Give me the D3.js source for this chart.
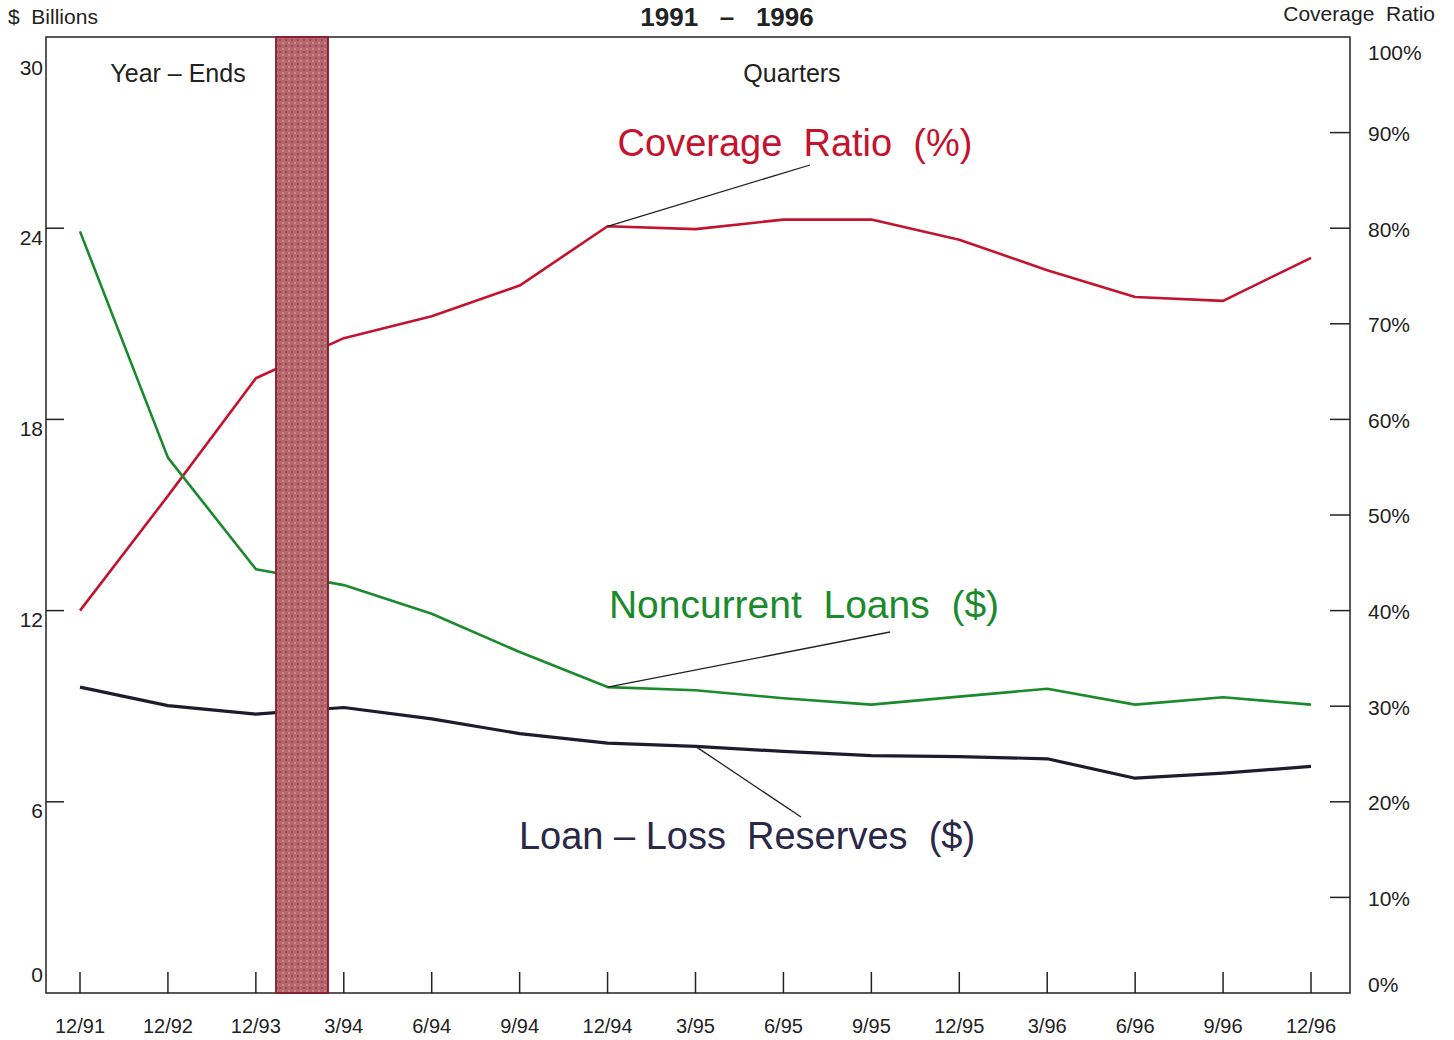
<!DOCTYPE html>
<html>
<head>
<meta charset="utf-8">
<script src="https://cdn.jsdelivr.net/npm/d3@7"></script>
<style>
  body { margin: 0; background: #fff; }
  svg { display: block; font-family: "Liberation Sans", Arial, sans-serif; }
</style>
</head>
<body>
<div id="chart"></div>
<script>
// Quarter labels along the bottom
const periods = ["12/91", "12/92", "12/93", "3/94", "6/94", "9/94", "12/94", "3/95",
                 "6/95", "9/95", "12/95", "3/96", "6/96", "9/96", "12/96"];

// Coverage ratio, percent (right axis)
const coverageRatio = [40.0, 52.0, 64.3, 68.5, 70.8, 74.0, 80.2, 79.9,
                       80.9, 80.9, 78.8, 75.6, 72.8, 72.4, 76.9];

// Noncurrent loans, $ billions (left axis)
const noncurrentLoans = [23.9, 16.8, 13.3, 12.8, 11.9, 10.7, 9.6, 9.5,
                         9.25, 9.05, 9.3, 9.55, 9.05, 9.28, 9.05];

// Loan-loss reserves, $ billions (left axis)
const lossReserves = [9.6, 9.02, 8.75, 8.96, 8.6, 8.14, 7.84, 7.74,
                      7.58, 7.45, 7.42, 7.35, 6.74, 6.9, 7.11];

const leftTicks = [0, 6, 12, 18, 24, 30];
const rightTicks = [0, 10, 20, 30, 40, 50, 60, 70, 80, 90, 100];

// Break between year-end and quarterly data (in index units)
const breakBand = [2.23, 2.82];

const width = 1454, height = 1040;
const plotLeft = 46, plotRight = 1350, plotTop = 37, plotBottom = 993;

const svg = d3.select("#chart").append("svg")
    .attr("width", width)
    .attr("height", height);

// speckled fill for the break band
const pat = svg.append("defs").append("pattern")
    .attr("id", "speckle")
    .attr("patternUnits", "userSpaceOnUse")
    .attr("width", 6).attr("height", 6);
pat.append("rect").attr("width", 6).attr("height", 6).attr("fill", "#b4676c");
pat.append("rect").attr("x", 0).attr("y", 0).attr("width", 2).attr("height", 2).attr("fill", "#c98a86");
pat.append("rect").attr("x", 3).attr("y", 3).attr("width", 2).attr("height", 2).attr("fill", "#9e4a55");

const x = d3.scaleLinear().domain([0, periods.length - 1]).range([80, 1311]);
const yL = d3.scaleLinear().domain([0, 30]).range([plotBottom, plotTop]);
const yR = d3.scaleLinear().domain([0, 100]).range([plotBottom, plotTop]);

// Frame
svg.append("rect")
    .attr("x", plotLeft).attr("y", plotTop)
    .attr("width", plotRight - plotLeft).attr("height", plotBottom - plotTop)
    .attr("fill", "none").attr("stroke", "#222").attr("stroke-width", 1.5);

// Left ticks (inside)
svg.append("g").selectAll("line")
  .data(leftTicks.filter(d => d > 0 && d < 30))
  .join("line")
    .attr("x1", plotLeft).attr("x2", plotLeft + 18)
    .attr("y1", d => yL(d)).attr("y2", d => yL(d))
    .attr("stroke", "#222").attr("stroke-width", 1.5);

svg.append("g").selectAll("text")
  .data(leftTicks)
  .join("text")
    .attr("x", 43)
    .attr("y", d => yL(d) + (d === 30 ? 31 : d === 0 ? -18 : 9))
    .attr("dy", "0.35em")
    .attr("text-anchor", "end")
    .attr("font-size", 21)
    .attr("fill", "#222")
    .text(d => d);

// Right ticks (inside)
svg.append("g").selectAll("line")
  .data(rightTicks.filter(d => d > 0 && d < 100))
  .join("line")
    .attr("x1", plotRight - 20).attr("x2", plotRight)
    .attr("y1", d => yR(d)).attr("y2", d => yR(d))
    .attr("stroke", "#222").attr("stroke-width", 1.5);

svg.append("g").selectAll("text")
  .data(rightTicks)
  .join("text")
    .attr("x", 1368)
    .attr("y", d => yR(d) + (d === 100 ? 16 : d === 0 ? -8 : 1))
    .attr("dy", "0.35em")
    .attr("font-size", 21)
    .attr("fill", "#222")
    .text(d => d + "%");

// Bottom ticks
svg.append("g").selectAll("line")
  .data(periods)
  .join("line")
    .attr("x1", (d, i) => x(i)).attr("x2", (d, i) => x(i))
    .attr("y1", plotBottom - 21).attr("y2", plotBottom)
    .attr("stroke", "#222").attr("stroke-width", 1.5);

svg.append("g").selectAll("text")
  .data(periods)
  .join("text")
    .attr("x", (d, i) => x(i))
    .attr("y", 1026)
    .attr("dy", "0.35em")
    .attr("text-anchor", "middle")
    .attr("font-size", 20)
    .attr("fill", "#222")
    .text(d => d);

// Lines
const series = [
  { values: coverageRatio, scale: yR, color: "#c4132f", width: 2.6 },
  { values: noncurrentLoans, scale: yL, color: "#1b8a2c", width: 2.6 },
  { values: lossReserves, scale: yL, color: "#1c1c2c", width: 3.2 }
];

series.forEach(s => {
  const line = d3.line()
      .x((d, i) => x(i))
      .y(d => s.scale(d));
  svg.append("path")
      .datum(s.values)
      .attr("d", line)
      .attr("fill", "none")
      .attr("stroke", s.color)
      .attr("stroke-width", s.width)
      .attr("stroke-linejoin", "round");
});

// Break band
svg.append("rect")
    .attr("x", x(breakBand[0]))
    .attr("y", plotTop)
    .attr("width", x(breakBand[1]) - x(breakBand[0]))
    .attr("height", plotBottom - plotTop)
    .attr("fill", "url(#speckle)")
    .attr("stroke", "#8a2030")
    .attr("stroke-width", 2);

// Leader lines and labels
const labels = [
  { text: "Coverage  Ratio  (%)", color: "#c4132f", idx: 6, value: coverageRatio[6], scale: yR,
    tx: 795, ty: 143, lx: 810, ly: 165, size: 38 },
  { text: "Noncurrent  Loans  ($)", color: "#1b8a2c", idx: 6, value: noncurrentLoans[6], scale: yL,
    tx: 804, ty: 604, lx: 890, ly: 632, size: 39 },
  { text: "Loan – Loss  Reserves  ($)", color: "#2a2748", idx: 7, value: lossReserves[7], scale: yL,
    tx: 747, ty: 836, lx: 801, ly: 817, size: 38 }
];

labels.forEach(l => {
  svg.append("line")
      .attr("x1", x(l.idx)).attr("y1", l.scale(l.value))
      .attr("x2", l.lx).attr("y2", l.ly)
      .attr("stroke", "#222").attr("stroke-width", 1.3);
  svg.append("text")
      .attr("x", l.tx).attr("y", l.ty)
      .attr("dy", "0.35em")
      .attr("text-anchor", "middle")
      .attr("font-size", l.size)
      .attr("fill", l.color)
      .style("white-space", "pre")
      .text(l.text);
});

// Header texts
svg.append("text")
    .attr("x", 8).attr("y", 17).attr("dy", "0.35em")
    .attr("font-size", 21).attr("fill", "#222")
    .style("white-space", "pre")
    .text("$  Billions");

svg.append("text")
    .attr("x", 1435).attr("y", 14).attr("dy", "0.35em")
    .attr("text-anchor", "end")
    .attr("font-size", 21).attr("fill", "#222")
    .style("white-space", "pre")
    .text("Coverage  Ratio");

svg.append("text")
    .attr("x", 727).attr("y", 26)
    .attr("text-anchor", "middle")
    .attr("font-size", 26).attr("font-weight", "bold").attr("fill", "#222")
    .style("white-space", "pre")
    .text("1991   –   1996");

svg.append("text")
    .attr("x", 178).attr("y", 73).attr("dy", "0.35em")
    .attr("text-anchor", "middle")
    .attr("font-size", 25).attr("fill", "#222")
    .text("Year – Ends");

svg.append("text")
    .attr("x", 792).attr("y", 73).attr("dy", "0.35em")
    .attr("text-anchor", "middle")
    .attr("font-size", 25).attr("fill", "#222")
    .text("Quarters");
</script>
</body>
</html>
